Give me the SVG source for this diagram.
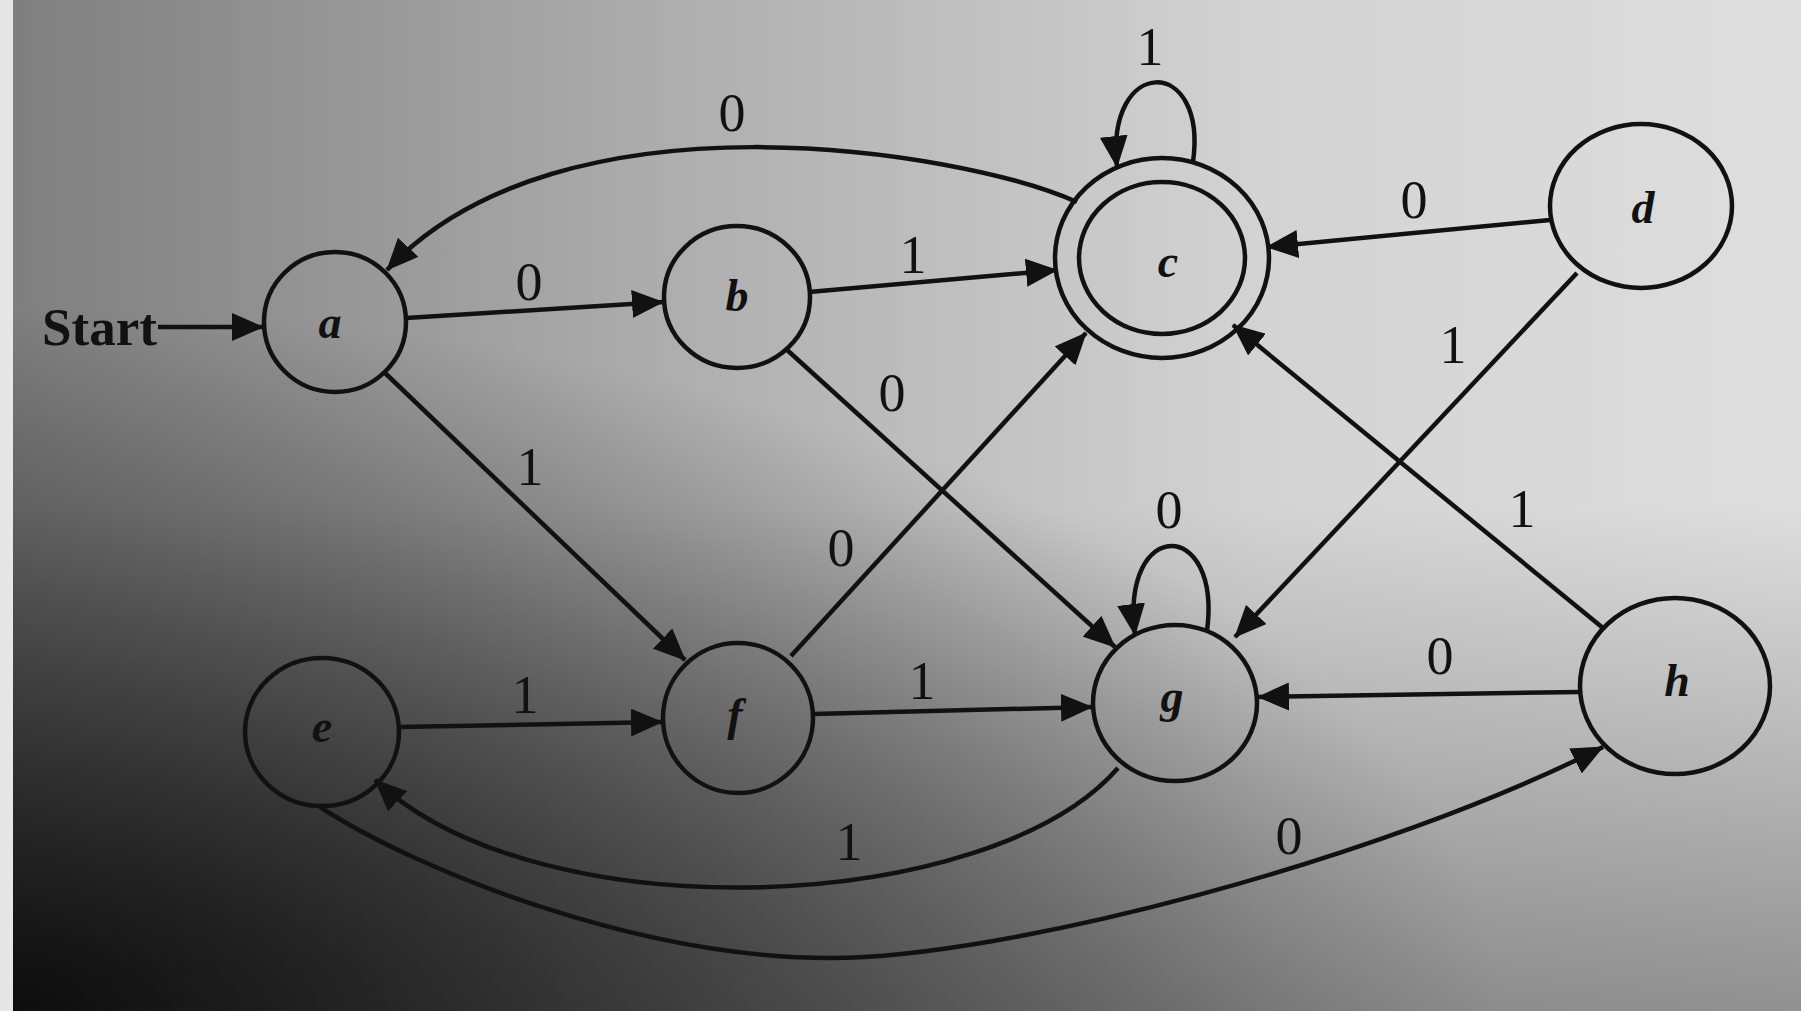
<svg xmlns="http://www.w3.org/2000/svg" width="1801" height="1011" viewBox="0 0 1801 1011">
<defs>
  <linearGradient id="bgH" x1="0" y1="0" x2="1" y2="0">
    <stop offset="0" stop-color="#7e7e7e"/>
    <stop offset="0.35" stop-color="#ababab"/>
    <stop offset="0.7" stop-color="#d3d3d3"/>
    <stop offset="1" stop-color="#dedede"/>
  </linearGradient>
  <radialGradient id="bgBL" gradientUnits="userSpaceOnUse" cx="0" cy="1011" r="1500" gradientTransform="translate(0,1011) scale(1,0.47) translate(0,-1011)">
    <stop offset="0" stop-color="#000" stop-opacity="0.85"/>
    <stop offset="0.4" stop-color="#000" stop-opacity="0.5"/>
    <stop offset="1" stop-color="#000" stop-opacity="0"/>
  </radialGradient>
  <linearGradient id="bgV" x1="0" y1="0" x2="0" y2="1">
    <stop offset="0.5" stop-color="#000" stop-opacity="0"/>
    <stop offset="1" stop-color="#000" stop-opacity="0.35"/>
  </linearGradient>
  <marker id="arr" markerUnits="userSpaceOnUse" viewBox="0 0 32 28" refX="31" refY="14" markerWidth="32" markerHeight="28" orient="auto">
    <path d="M0,0 L32,14 L0,28 z" fill="#111"/>
  </marker>
  <style>
    .edge { fill: none; stroke: #111; stroke-width: 4.5; marker-end: url(#arr); }
    .state { fill: none; stroke: #111; stroke-width: 4.5; }
    .sym { font-family: "Liberation Serif", "DejaVu Serif", serif; font-size: 54px; fill: #111; text-anchor: middle; }
    .name { font-family: "Liberation Serif", "DejaVu Serif", serif; font-size: 46px; font-style: italic; font-weight: bold; fill: #111; text-anchor: middle; }
    .start { font-family: "Liberation Serif", "DejaVu Serif", serif; font-size: 53px; font-weight: bold; fill: #111; }
  </style>
</defs>

<g id="background">
  <rect x="0" y="0" width="1801" height="1011" fill="url(#bgH)"/>
  <rect x="0" y="0" width="1801" height="1011" fill="url(#bgBL)"/>
  <rect x="0" y="0" width="1801" height="1011" fill="url(#bgV)"/>
  <rect x="0" y="0" width="13" height="1011" fill="#e6e6e6"/>
</g>

<g id="connectors">
  <path class="edge" d="M158,327 L263,327"/>
  <path class="edge" d="M406,318 L663,302"/>
  <path class="edge" d="M384,372 L685,660"/>
  <path class="edge" d="M809,292 L1057,270"/>
  <path class="edge" d="M786,349 L1115,647"/>
  <path class="edge" d="M1550,220 L1267,247"/>
  <path class="edge" d="M1577,273 L1235,637"/>
  <path class="edge" d="M399,727 L662,722"/>
  <path class="edge" d="M791,656 L1086,333"/>
  <path class="edge" d="M813,714 L1092,707"/>
  <path class="edge" d="M1580,692 L1258,697"/>
  <path class="edge" d="M1603,628 L1233,325"/>
  <path class="edge" d="M1077,202 C960,150 560,85 387,270"/>
  <path class="edge" d="M1118,768 C990,915 540,935 375,780"/>
  <path class="edge" d="M320,807 C420,872 640,958 830,958 C1005,958 1380,860 1603,747"/>
  <path class="edge" d="M1193,162 C1208,55 1105,55 1117,167"/>
  <path class="edge" d="M1207,631 C1222,517 1120,517 1135,635"/>
</g>

<g id="edge-labels">
  <text class="start" x="42" y="345">Start</text>
  <text class="sym" x="529" y="300">0</text>
  <text class="sym" x="530" y="485">1</text>
  <text class="sym" x="913" y="273">1</text>
  <text class="sym" x="892" y="411">0</text>
  <text class="sym" x="732" y="131">0</text>
  <text class="sym" x="1150" y="65">1</text>
  <text class="sym" x="1414" y="218">0</text>
  <text class="sym" x="1453" y="363">1</text>
  <text class="sym" x="525" y="713">1</text>
  <text class="sym" x="841" y="566">0</text>
  <text class="sym" x="922" y="699">1</text>
  <text class="sym" x="1169" y="528">0</text>
  <text class="sym" x="1440" y="674">0</text>
  <text class="sym" x="1522" y="527">1</text>
  <text class="sym" x="849" y="860">1</text>
  <text class="sym" x="1289" y="854">0</text>
</g>

<g id="node-a">
  <ellipse class="state" cx="335" cy="322" rx="71" ry="70"/>
  <text class="name" x="330" y="338">a</text>
</g>
<g id="node-b">
  <ellipse class="state" cx="737" cy="297" rx="73" ry="71"/>
  <text class="name" x="737" y="311">b</text>
</g>
<g id="node-c">
  <ellipse class="state" cx="1162" cy="258" rx="107" ry="100"/>
  <ellipse class="state" cx="1162" cy="258" rx="83" ry="76"/>
  <text class="name" x="1168" y="277">c</text>
</g>
<g id="node-d">
  <ellipse class="state" cx="1641" cy="206" rx="91" ry="82"/>
  <text class="name" x="1643" y="223">d</text>
</g>
<g id="node-e">
  <ellipse class="state" cx="322" cy="732" rx="77" ry="74"/>
  <text class="name" x="322" y="742">e</text>
</g>
<g id="node-f">
  <ellipse class="state" cx="738" cy="718" rx="75" ry="75"/>
  <text class="name" x="735" y="730">f</text>
</g>
<g id="node-g">
  <ellipse class="state" cx="1175" cy="703" rx="82" ry="78"/>
  <text class="name" x="1172" y="712">g</text>
</g>
<g id="node-h">
  <ellipse class="state" cx="1675" cy="686" rx="95" ry="88"/>
  <text class="name" x="1677" y="696">h</text>
</g>
</svg>
